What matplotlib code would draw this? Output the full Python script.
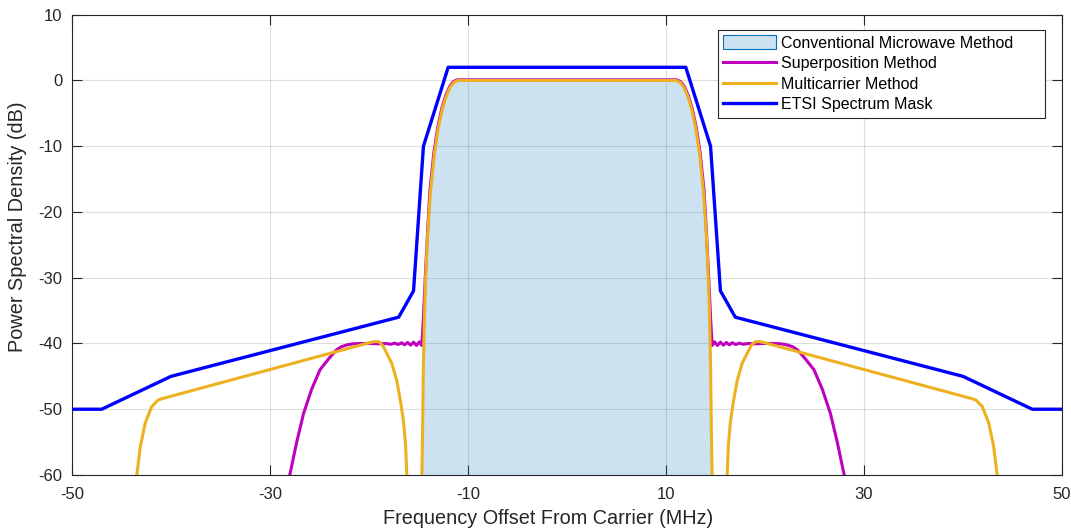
"""
PSD of the three transmit methods against the ETSI spectrum mask.
"""
import numpy as np
import matplotlib
matplotlib.use("Agg")
import matplotlib.pyplot as plt
from matplotlib.patches import Patch
from matplotlib.lines import Line2D

plt.rcParams["font.family"] = ["Liberation Sans", "DejaVu Sans"]
plt.rcParams["axes.unicode_minus"] = False

NAN = np.nan

# ETSI mask breakpoints (MHz, dB)
mask_freq = [-50, -47, -40, -17, -15.5, -14.5, -12, 12, 14.5, 15.5, 17, 40, 47, 50]
mask_db = [-50, -50, -45, -36, -32, -10, 2, 2, -10, -32, -36, -45, -50, -50]

# conventional microwave method (main lobe only)
conv_freq = [-14.68, -14.6, -14.5, -14.4, -14.3, -14.1, -13.8, -13.4, -13.0, -12.6,
             -12.2, -11.8, -11.4, -11.0, 11.0, 11.4, 11.8, 12.2, 12.6, 13.0, 13.4,
             13.8, 14.1, 14.3, 14.4, 14.5, 14.6, 14.68]
conv_db = [-62, -55, -43, -36, -31, -24, -17.1, -11.2, -7.2, -4.4,
           -2.4, -1.0, -0.25, 0, 0, -0.25, -1.0, -2.4, -4.4, -7.2, -11.2,
           -17.1, -24, -31, -36, -43, -55, -62]

# superposition method
sup_freq = [-28.15, -28.0, -27.3, -26.6, -25.8, -24.95, -24.0, -23.3, -22.8, -22.2,
            -21.6, -20.8, -19.8, -18.9, -18.3, -17.8, -17.4, -17.05, -16.7, -16.4,
            -16.1, -15.8, -15.5, -15.2, -14.9, -14.66,
            -14.5, -14.3, -14.1, -13.85, -13.45, -13.05, -12.65, -12.25, -11.85,
            -11.45, -11.05, 11.05, 11.45, 11.85, 12.25, 12.65, 13.05, 13.45, 13.85,
            14.1, 14.3, 14.5,
            14.66, 14.9, 15.2, 15.5, 15.8, 16.1, 16.4, 16.7, 17.05, 17.4, 17.8,
            18.3, 18.9, 19.8, 20.8, 21.6, 22.2, 22.8, 23.3, 24.0, 24.95, 25.8,
            26.6, 27.3, 28.0, 28.15]
sup_db = [-62, -60, -55, -50.6, -47.0, -44.0, -42.2, -41.0, -40.5, -40.2,
          -40.05, -40.0, -40.0, -40.05, -40.0, -40.12, -39.95, -40.15, -39.9, -40.2,
          -39.85, -40.25, -39.8, -40.3, -39.75, -40.3,
          -36.0, -29.5, -23.5, -16.8, -11.0, -7.1, -4.3, -2.3, -0.9,
          -0.15, 0.1, 0.1, -0.15, -0.9, -2.3, -4.3, -7.1, -11.0, -16.8,
          -23.5, -29.5, -36.0,
          -40.3, -39.75, -40.3, -39.8, -40.25, -39.85, -40.2, -39.9, -40.15, -39.95, -40.12,
          -40.0, -40.05, -40.0, -40.0, -40.05, -40.2, -40.5, -41.0, -42.2, -44.0, -47.0,
          -50.6, -55.0, -60, -62]

# multicarrier method: two side pieces, main lobe follows the conventional one
mc_left_freq = [-43.6, -43.45, -43.1, -42.6, -41.95, -41.3, -40.8, -20.0, -19.4, -19.0,
                -18.6, -18.2, -17.7, -17.2, -16.8, -16.5, -16.3, -16.18, -16.12]
mc_left_db = [-62, -60, -55.7, -52.1, -49.6, -48.6, -48.35, -39.9, -39.7, -39.75,
              -40.3, -41.5, -43.0, -45.6, -48.9, -52.0, -55.5, -60, -62]
mc_right_freq = [16.12, 16.18, 16.3, 16.5, 16.8, 17.2, 17.7, 18.2, 18.6, 19.0,
                 19.4, 20.0, 40.8, 41.3, 41.95, 42.6, 43.1, 43.45, 43.6]
mc_right_db = [-62, -60, -55.5, -52.0, -48.9, -45.6, -43.0, -41.5, -40.3, -39.75,
               -39.7, -39.9, -48.35, -48.6, -49.6, -52.1, -55.7, -60, -62]

mc_freq = mc_left_freq + [NAN] + conv_freq + [NAN] + mc_right_freq
mc_db = mc_left_db + [NAN] + conv_db + [NAN] + mc_right_db

# figure spaces after the longest entry widen the legend box on the right
LABELS = ["Conventional Microwave Method" + "\u2007" * 3, "Superposition Method",
          "Multicarrier Method", "ETSI Spectrum Mask"]

C_AREA = (0.0, 0.447, 0.741)
C_SUP = "#BF00BF"
C_MC = "#EDB120"
C_MASK = "#0000FF"
AX_COLOR = "#262626"

fig = plt.figure(figsize=(10.71, 5.29), dpi=100)
ax = fig.add_axes([0.0672, 0.1021, 0.9244, 0.8701])

ax.fill_between(conv_freq, conv_db, -100, facecolor=C_AREA + (0.2,),
                edgecolor=C_AREA + (1.0,), linewidth=0.6, zorder=1)
ax.plot(sup_freq, sup_db, color=C_SUP, lw=2.2, zorder=2)
ax.plot(mc_freq, mc_db, color=C_MC, lw=2.2, zorder=3)
ax.plot(mask_freq, mask_db, color=C_MASK, lw=2.4, zorder=4)

ax.set_xlim(-50, 50)
ax.set_ylim(-60, 10)
ax.set_xticks([-50, -30, -10, 10, 30, 50])
ax.set_yticks(np.arange(-60, 11, 10))

ax.set_axisbelow(True)
ax.grid(True, color=AX_COLOR, alpha=0.15, linewidth=0.8)
for sp in ax.spines.values():
    sp.set_color(AX_COLOR)
    sp.set_linewidth(0.8)
ax.tick_params(direction="in", length=7, width=0.8, colors=AX_COLOR,
               labelsize=12, top=True, right=True)
ax.tick_params(axis="x", pad=9)
ax.tick_params(axis="y", pad=7)

ax.set_xlabel("Frequency Offset From Carrier (MHz)", fontsize=14.3, color=AX_COLOR)
ax.set_ylabel("Power Spectral Density (dB)", fontsize=14.3, color=AX_COLOR)
ax.xaxis.set_label_coords(0.481, -0.074)
ax.yaxis.set_label_coords(-0.045, 0.539)

handles = [
    Patch(facecolor=C_AREA + (0.2,), edgecolor=C_AREA + (1.0,), linewidth=0.8),
    Line2D([], [], color=C_SUP, lw=2.2),
    Line2D([], [], color=C_MC, lw=2.2),
    Line2D([], [], color=C_MASK, lw=2.4),
]
leg = ax.legend(handles, LABELS, loc="upper right", bbox_to_anchor=(0.983, 0.967),
                borderaxespad=0, fontsize=11.5, handlelength=3.3, handleheight=0.9,
                handletextpad=0.3, labelspacing=0.34, borderpad=0.35,
                fancybox=False, framealpha=1)
leg.get_frame().set_edgecolor(AX_COLOR)
leg.get_frame().set_linewidth(0.8)

fig.savefig("out.png", dpi=100)
plt.close()
